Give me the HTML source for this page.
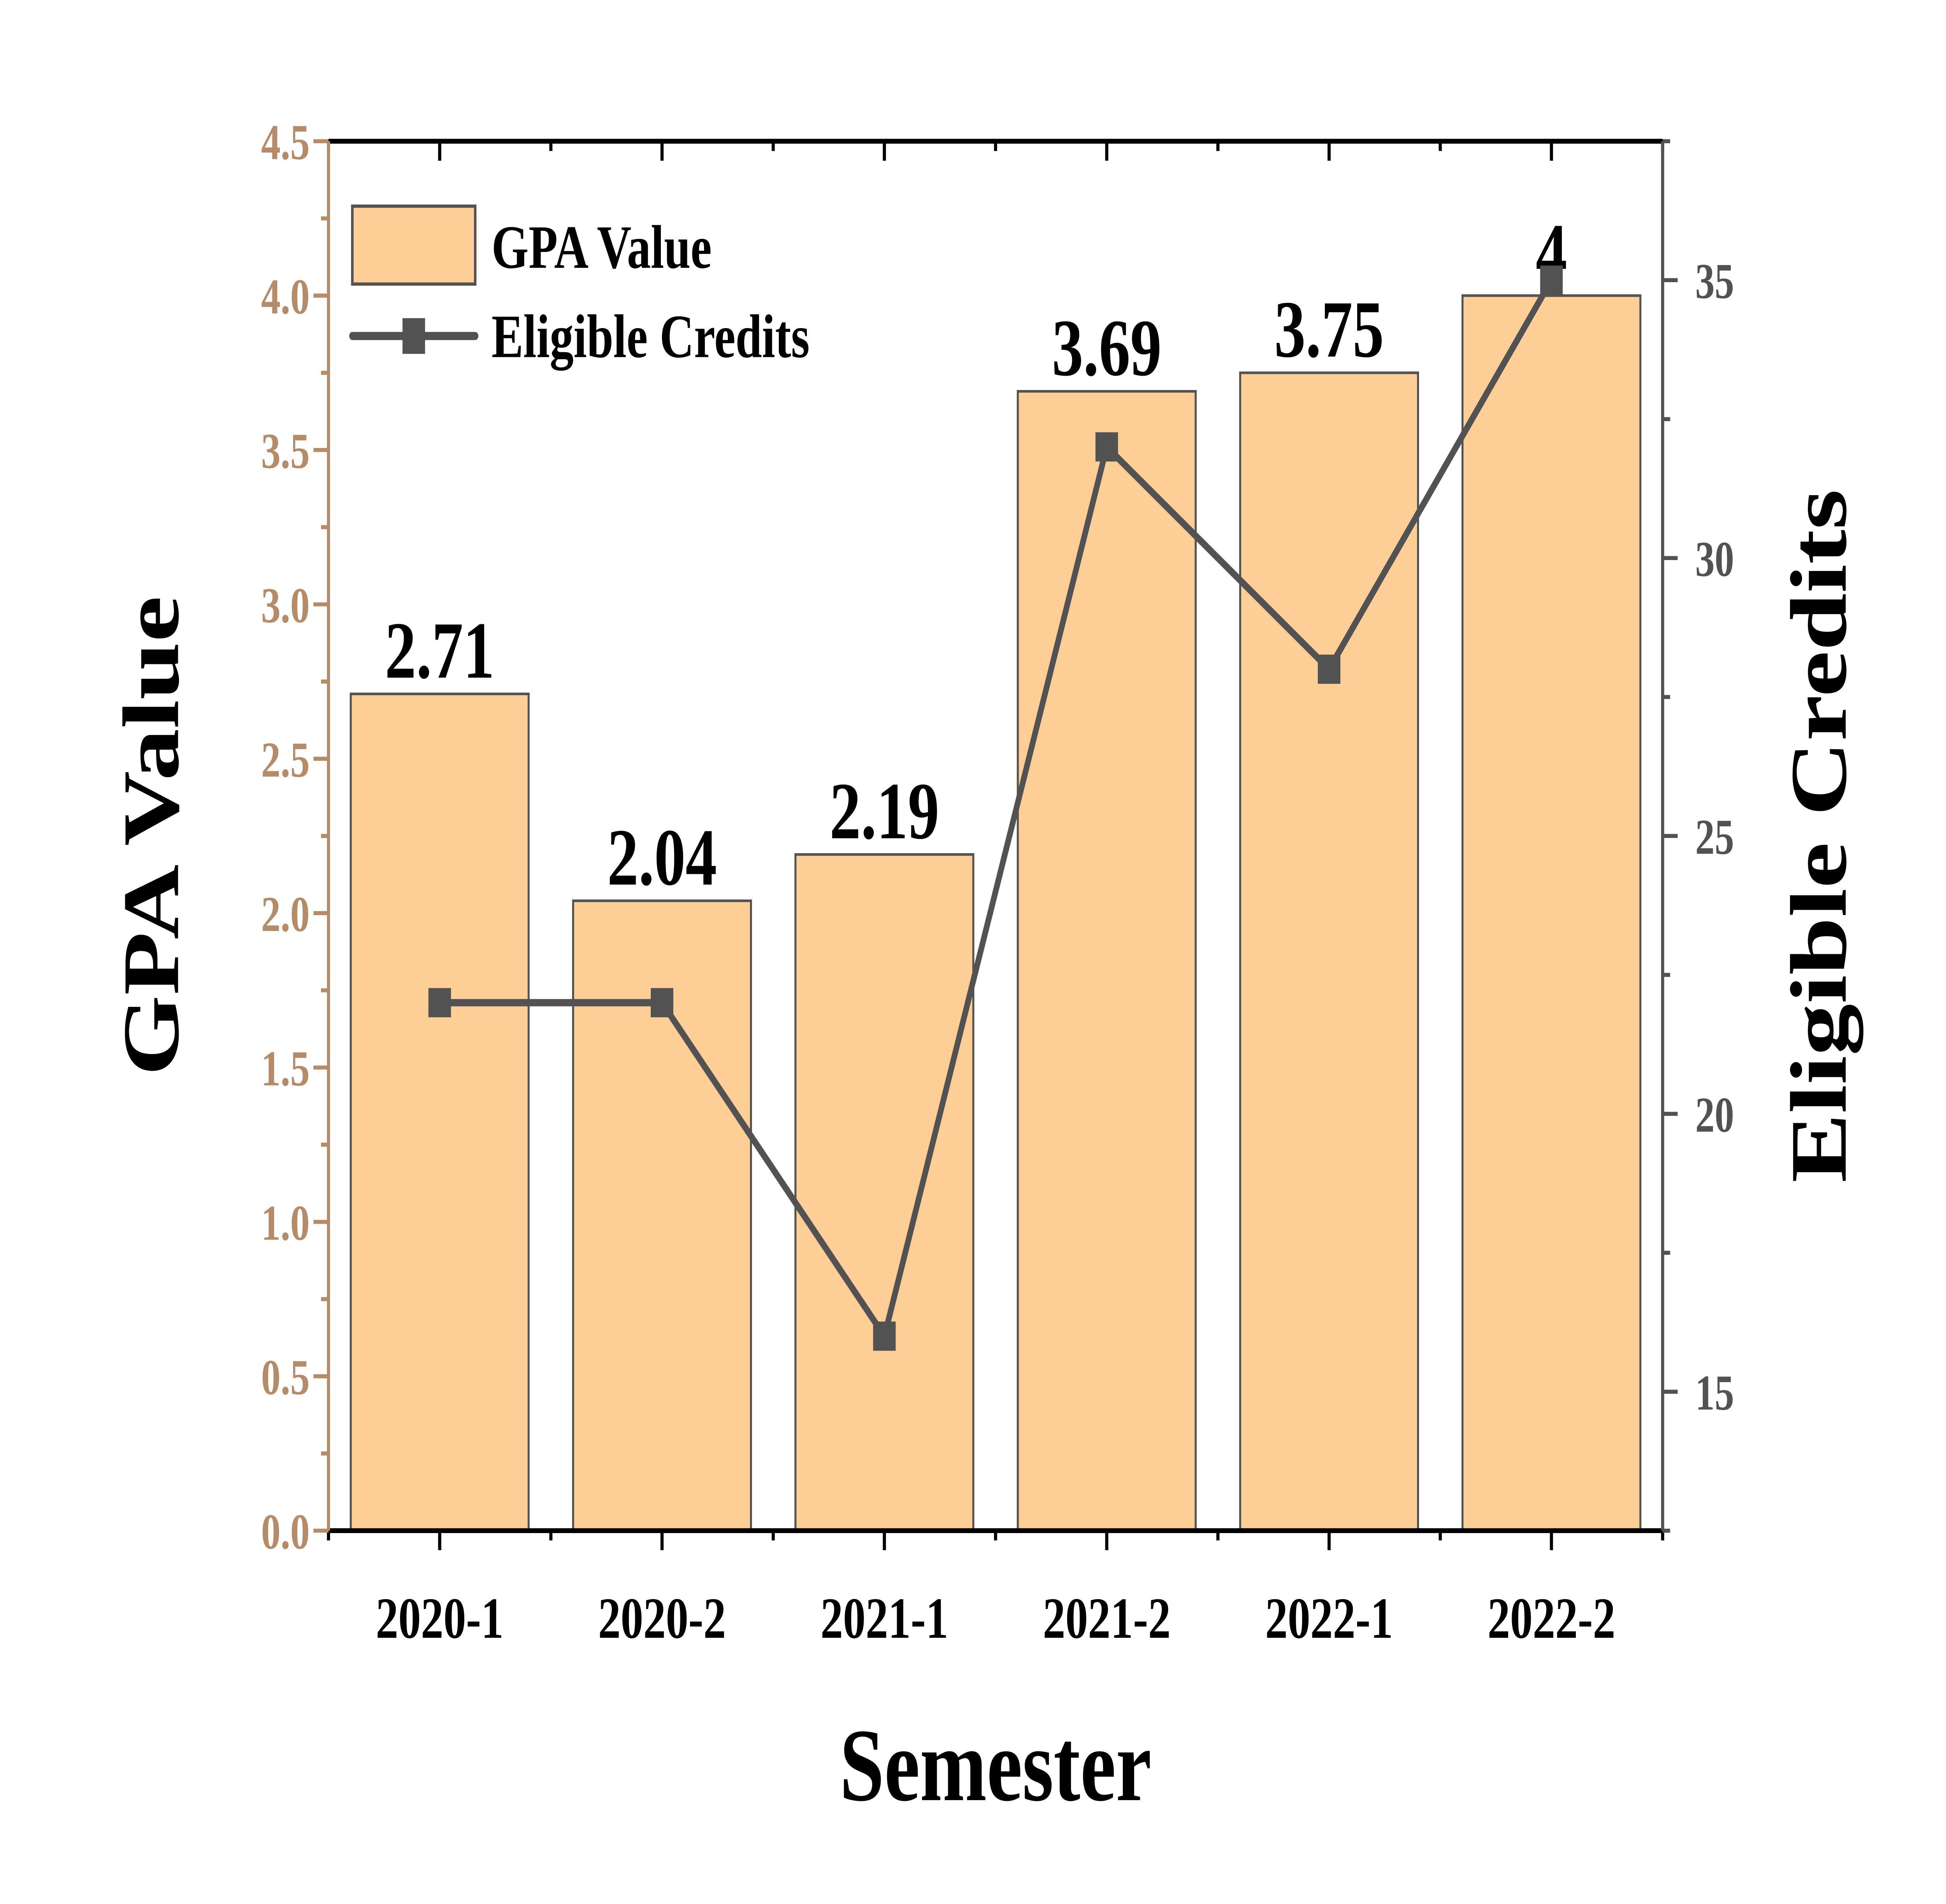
<!DOCTYPE html>
<html><head><meta charset="utf-8"><style>
html,body{margin:0;padding:0;background:#fff;width:100%;height:100%;overflow:hidden;}
svg{display:block;position:fixed;left:0;top:0;width:100vw;height:100vh;}
text{font-family:"Liberation Serif",serif;font-weight:bold;}
</style></head><body>
<svg id="chart" xmlns="http://www.w3.org/2000/svg" viewBox="0 0 1552 1173" preserveAspectRatio="none">
<g id="plot"></g>
</svg>
<script>
const categories = ["2020-1","2020-2","2021-1","2021-2","2022-1","2022-2"];
const gpaValues = [2.71, 2.04, 2.19, 3.69, 3.75, 4];
const gpaLabels = ["2.71","2.04","2.19","3.69","3.75","4"];
const creditValues = [22, 22, 16, 32, 28, 35];
const leftTicks = ["0.0","0.5","1.0","1.5","2.0","2.5","3.0","3.5","4.0","4.5"];
const rightTicks = [15, 20, 25, 30, 35];

const NS = "http://www.w3.org/2000/svg";
const g = document.getElementById("plot");
const X0 = 262, X1 = 1326, YT = 87, YB = 943;
const TAN = "#b58b68", GRAY = "#525252";
const band = (X1 - X0) / categories.length;
const xC = i => X0 + band * (i + 0.5);
const yL = v => YB - (v / 4.5) * (YB - YT);
const yR = v => YB - ((v - 12.5) / 25) * (YB - YT);

function el(tag, attrs, parent) {
  const e = document.createElementNS(NS, tag);
  for (const k in attrs) e.setAttribute(k, attrs[k]);
  (parent || g).appendChild(e);
  return e;
}
function txt(s, attrs) { const t = el("text", attrs); t.textContent = s; return t; }

gpaValues.forEach((v, i) => {
  const w = band * 0.8;
  const r = el("rect", {x: xC(i) - w/2, y: yL(v), width: w, height: YB - yL(v), fill: "#fdce96", stroke: GRAY, "stroke-width": 1.6});
  
  
  const t = txt(gpaLabels[i], {x: xC(i), y: yL(v) - 10, "font-size": 50, "text-anchor": "middle", fill: "#000"});
  
  
});

el("line", {x1: X0, y1: YT, x2: X1, y2: YT, stroke: "#000", "stroke-width": 3});
el("line", {x1: X0, y1: YB, x2: X1, y2: YB, stroke: "#000", "stroke-width": 3});
categories.forEach((c, i) => {
  el("line", {x1: xC(i), y1: YB, x2: xC(i), y2: YB + 12, stroke: "#000", "stroke-width": 2.5});
  el("line", {x1: xC(i), y1: YT, x2: xC(i), y2: YT + 12, stroke: "#000", "stroke-width": 2.5});
  const t = txt(c, {x: xC(i), y: 1009, "font-size": 36, "text-anchor": "middle", fill: "#000"});
  
  
});
for (let i = 0; i <= categories.length; i++) {
  const x = X0 + band * i;
  el("line", {x1: x, y1: YB, x2: x, y2: YB + 6, stroke: "#000", "stroke-width": 2.5});
  el("line", {x1: x, y1: YT, x2: x, y2: YT + 6, stroke: "#000", "stroke-width": 2.5});
}
el("line", {x1: X0, y1: YT, x2: X0, y2: YB, stroke: TAN, "stroke-width": 2.5});
leftTicks.forEach((s, i) => {
  const v = i * 0.5, y = yL(v);
  el("line", {x1: X0 - 12, y1: y, x2: X0, y2: y, stroke: TAN, "stroke-width": 2.5});
  if (i < leftTicks.length - 1) { const ym = yL(v + 0.25); el("line", {x1: X0 - 6, y1: ym, x2: X0, y2: ym, stroke: TAN, "stroke-width": 2.5}); }
  const t = txt(s, {x: 247, y: y + 11, "font-size": 31, "text-anchor": "end", fill: TAN});
  
  
});
el("line", {x1: X1, y1: YT, x2: X1, y2: YB, stroke: GRAY, "stroke-width": 2.5});
for (let v = 12.5; v <= 37.5; v += 2.5) {
  const major = v % 5 === 0;
  el("line", {x1: X1, y1: yR(v), x2: X1 + (major ? 12 : 6), y2: yR(v), stroke: GRAY, "stroke-width": 2.5});
}
rightTicks.forEach(v => {
  const t = txt(String(v), {x: 1352, y: yR(v) + 11, "font-size": 31, fill: GRAY});
  
  
});
const pts = creditValues.map((v, i) => xC(i) + "," + yR(v)).join(" ");
const pl = el("polyline", {points: pts, fill: "none", stroke: GRAY, "stroke-width": 4.5});


creditValues.forEach((v, i) => {
  const m = el("rect", {x: xC(i) - 9, y: yR(v) - 9, width: 18, height: 18, fill: GRAY});
  
  
});
const lg = el("g", {});


el("rect", {x: 281, y: 127, width: 98, height: 48, fill: "#fdce96", stroke: GRAY, "stroke-width": 2}, lg);
el("line", {x1: 281, y1: 207, x2: 379, y2: 207, stroke: GRAY, "stroke-width": 5, "stroke-linecap": "round"}, lg);
el("rect", {x: 321, y: 196, width: 18, height: 22, fill: GRAY}, lg);
let t = el("text", {x: 392, y: 165, "font-size": 38, fill: "#000"}, lg); t.textContent = "GPA Value";
t = el("text", {x: 392, y: 220, "font-size": 38, fill: "#000"}, lg); t.textContent = "Eligible Credits";
t = txt("GPA Value", {x: 0, y: 0, "font-size": 64, "text-anchor": "middle", fill: "#000", transform: "translate(142,515) rotate(-90)"});


t = txt("Eligible Credits", {x: 0, y: 0, "font-size": 64, "text-anchor": "middle", fill: "#000", transform: "translate(1472,515) rotate(-90)"});


t = txt("Semester", {x: 794, y: 1109, "font-size": 64, "text-anchor": "middle", fill: "#000"});


</script>
</body></html>
